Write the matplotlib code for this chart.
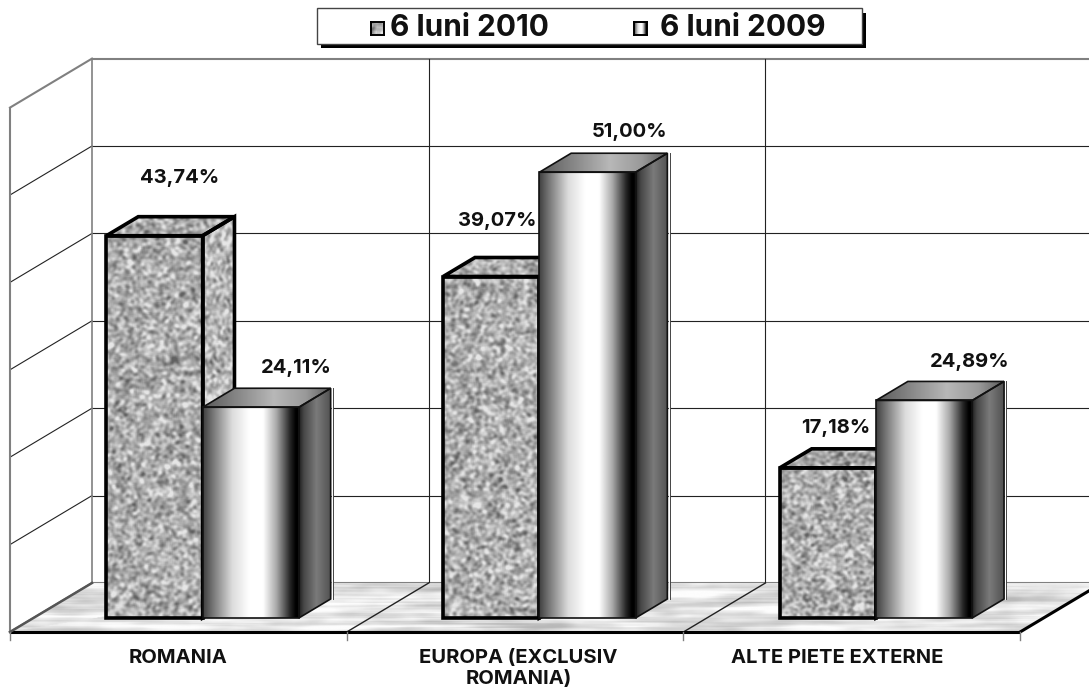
#!/usr/bin/env python3
"""Excel style 3D clustered columns: 6 luni 2010 vs 6 luni 2009."""

import numpy as np
import matplotlib

matplotlib.use("Agg")
import matplotlib.pyplot as plt
from matplotlib.patches import Polygon, Rectangle

categories = ["ROMANIA", "EUROPA (EXCLUSIV\nROMANIA)", "ALTE PIETE EXTERNE"]
series_names = ["6 luni 2010", "6 luni 2009"]
values_2010 = [43.74, 39.07, 17.18]
values_2009 = [24.11, 51.00, 24.89]
labels_2010 = ["43,74%", "39,07%", "17,18%"]
labels_2009 = ["24,11%", "51,00%", "24,89%"]
grid_values = [0, 10, 20, 30, 40, 50, 60]

W, H = 1089, 689
SLOT_PX = 336.7
UNIT_PX = 8.74
X0_PX, Y0_PX = 10, 632
DEPTH_X = 82 / SLOT_PX
DEPTH_Y = 49 / UNIT_PX
BAR_W = 0.2857
BAR_START = 0.2168
D_FRONT, D_BACK = 0.286, 0.674

# label offsets from the bar's front top centre, in pixels
offsets_2010 = [(25, 58), (6, 56), (8, 40)]
offsets_2009 = [(46, 39), (42, 40), (46, 38)]
cat_label_x = [0.5, 1.51, 2.457]

FONT = "Inter"
rng = np.random.default_rng(7)


def blur(a, n):
    k = np.ones(n) / n
    a = np.apply_along_axis(lambda r: np.convolve(r, k, mode="same"), 0, a)
    return np.apply_along_axis(lambda r: np.convolve(r, k, mode="same"), 1, a)


def granite(h, w, base=0.68):
    a = blur(blur(rng.normal(size=(h + 16, w + 16)), 4), 3)[8:-8, 8:-8]
    return np.clip(base + 0.10 * a / a.std(), 0.38, 0.9)


def marble(h, w):
    a = blur(rng.normal(size=(h, w)), 7)
    # slanted streaks
    for i in range(h):
        a[i] = np.roll(a[i], -i * 2)
    a = np.apply_along_axis(lambda r: np.convolve(r, np.ones(45) / 45, mode="same"), 1, a)
    for i in range(h):
        a[i] = np.roll(a[i], i * 2)
    return np.clip(0.90 + 0.065 * a / a.std(), 0.72, 0.99)


def gradient(stops, levels):
    return np.interp(np.linspace(0, 1, 200), stops, levels)[None, :]


FRONT_GRAD = gradient([0, 0.08, 0.3, 0.48, 0.62, 0.76, 0.9, 0.96, 1], [0.25, 0.42, 0.86, 1, 1, 0.66, 0.15, 0, 0])
SIDE_GRAD = gradient([0, 0.15, 0.55, 1], [0.12, 0.28, 0.48, 0.32])
TOP_GRAD = gradient([0, 0.55, 0.8, 1], [0.35, 0.72, 0.6, 0.35])


def proj(x, y, d):
    return x + d * DEPTH_X, y + d * DEPTH_Y


def face(ax, img, pts, zorder):
    pts = np.array(pts)
    poly = Polygon(pts, closed=True, transform=ax.transData, fc="none", ec="none")
    extent = (pts[:, 0].min(), pts[:, 0].max(), pts[:, 1].min(), pts[:, 1].max())
    im = ax.imshow(img, extent=extent, cmap="gray", vmin=0, vmax=1, aspect="auto",
                   origin="lower", interpolation="bilinear", zorder=zorder)
    im.set_clip_path(poly)


def bar3d(ax, left, value, textured, zorder):
    right = left + BAR_W
    fl, ft = proj(left, value, D_FRONT)
    fr, fb = proj(right, 0, D_FRONT)
    bl, bt = proj(left, value, D_BACK)
    br, bb = proj(right, 0, D_BACK)

    front = [(fl, fb), (fr, fb), (fr, ft), (fl, ft)]
    top = [(fl, ft), (fr, ft), (br, bt), (bl, bt)]
    side = [(fr, fb), (br, bb), (br, bt), (fr, ft)]

    px_h = max(int(value * UNIT_PX) + 30, 40)
    if textured:
        face(ax, granite(24, 130, 0.66), top, zorder)
        face(ax, granite(px_h, 40, 0.72), side, zorder)
        face(ax, granite(px_h, 100), front, zorder)
        lw, ec = 2.6, "black"
    else:
        face(ax, TOP_GRAD, top, zorder)
        face(ax, SIDE_GRAD, side, zorder)
        face(ax, FRONT_GRAD, front, zorder)
        lw, ec = 1.2, "#111111"
    for pts in (top, side, front):
        ax.add_patch(Polygon(pts, closed=True, fc="none", ec=ec, lw=lw, joinstyle="miter", zorder=zorder + 0.1))
    if not textured:
        # thin white rim next to the dark side face
        off = 1.2 / SLOT_PX
        ax.plot([br + off, br + off], [bb, bt], color="white", lw=1.0, zorder=zorder - 0.05)
        ax.plot([br + 2 * off, br + 2 * off], [bb, bt], color="#444444", lw=0.7, zorder=zorder - 0.05)


def px(x, y):
    return x / W, 1 - y / H


def main():
    fig = plt.figure(figsize=(W / 100, H / 100), dpi=100)
    ax = fig.add_axes([0, 0, 1, 1])
    ax.set_xlim(-X0_PX / SLOT_PX, (W - X0_PX) / SLOT_PX)
    ax.set_ylim(-(H - Y0_PX) / UNIT_PX, Y0_PX / UNIT_PX)
    ax.axis("off")
    xlim, ylim = ax.get_xlim(), ax.get_ylim()

    n = len(categories)
    top_val = grid_values[-1]

    # walls and gridlines
    for v in grid_values:
        c = "#808080" if v in (0, top_val) else "#222222"
        lw = 1.5 if v in (0, top_val) else 0.8
        xb, yb = proj(0, v, 1)
        ax.plot([xb, xlim[1]], [yb, yb], color=c, lw=lw, zorder=1)
        ax.plot([0, xb], [v, yb], color=c, lw=lw, zorder=1)
    for i in range(n):
        xb, yb = proj(i, 0, 1)
        c = "#808080" if i == 0 else "#222222"
        ax.plot([xb, xb], [yb, proj(0, top_val, 1)[1]], color=c, lw=1.2 if i == 0 else 0.8, zorder=1)
    ax.plot([0, 0], [0, top_val], color="#808080", lw=1.5, zorder=1)

    # floor
    floor = [(0, 0), (n, 0), proj(n, 0, 1), proj(0, 0, 1)]
    face(ax, marble(70, 500), floor, 1.5)
    ax.plot([0, n], [0, 0], color="black", lw=2.2, zorder=2, solid_capstyle="butt")
    ax.plot([n, proj(n, 0, 1)[0]], [0, proj(n, 0, 1)[1]], color="black", lw=2.2, zorder=2)
    ax.plot([0, proj(0, 0, 1)[0]], [0, proj(0, 0, 1)[1]], color="#555555", lw=1.8, zorder=2)
    for i in range(1, n):
        ax.plot([i, proj(i, 0, 1)[0]], [0, proj(i, 0, 1)[1]], color="#222222", lw=1.0, zorder=1.8)
    for i in range(n + 1):
        ax.plot([i, i], [0, -8 / UNIT_PX], color="#808080", lw=1.0, zorder=2)

    # bars
    for i in range(n):
        left = i + BAR_START
        bar3d(ax, left, values_2010[i], True, 3 + i)
        bar3d(ax, left + BAR_W, values_2009[i], False, 3.4 + i)

        x1, y1 = proj(left + BAR_W / 2, values_2010[i], D_FRONT)
        x2, y2 = proj(left + 1.5 * BAR_W, values_2009[i], D_FRONT)
        ax.annotate(labels_2010[i], (x1, y1), xytext=offsets_2010[i], textcoords="offset pixels",
                    ha="center", va="center", fontsize=14.5, fontweight="bold", family=FONT,
                    color="#111111", zorder=10)
        ax.annotate(labels_2009[i], (x2, y2), xytext=offsets_2009[i], textcoords="offset pixels",
                    ha="center", va="center", fontsize=14.5, fontweight="bold", family=FONT,
                    color="#111111", zorder=10)

    # category labels
    for i, name in enumerate(categories):
        ax.text(cat_label_x[i], -17 / UNIT_PX, name, ha="center", va="top", fontsize=14.5,
                fontweight="bold", family=FONT, color="#111111", linespacing=1.2, zorder=10)

    # legend box with hard shadow
    def rect(x0, y0, x1, y1, **kw):
        l, b = px(x0, y1)
        r, t = px(x1, y0)
        fig.add_artist(Rectangle((l, b), r - l, t - b, transform=fig.transFigure, **kw))

    rect(321, 13, 866, 48, fc="black", ec="none", zorder=20)
    rect(317, 8, 862, 44, fc="white", ec="#444444", lw=1.0, zorder=21)

    swatches = [granite(13, 13), np.tile(FRONT_GRAD, (13, 1))]
    for (sx, img, name, tx) in zip([371, 634], swatches, series_names, [469.5, 743]):
        l, b = px(sx, 35)
        r, t = px(sx + 13, 22)
        sw = fig.add_axes([l, b, r - l, t - b], zorder=22)
        sw.imshow(img, cmap="gray", vmin=0, vmax=1, aspect="auto")
        sw.set_xticks([])
        sw.set_yticks([])
        for s in sw.spines.values():
            s.set_linewidth(1.4)
        tx_f, ty_f = px(tx, 28)
        fig.text(tx_f, ty_f, name, ha="center", va="center", fontsize=21.5, fontweight="bold",
                 family=FONT, color="#111111", zorder=23)

    ax.set_xlim(xlim)
    ax.set_ylim(ylim)
    fig.savefig("out.png", dpi=100)


if __name__ == "__main__":
    main()
